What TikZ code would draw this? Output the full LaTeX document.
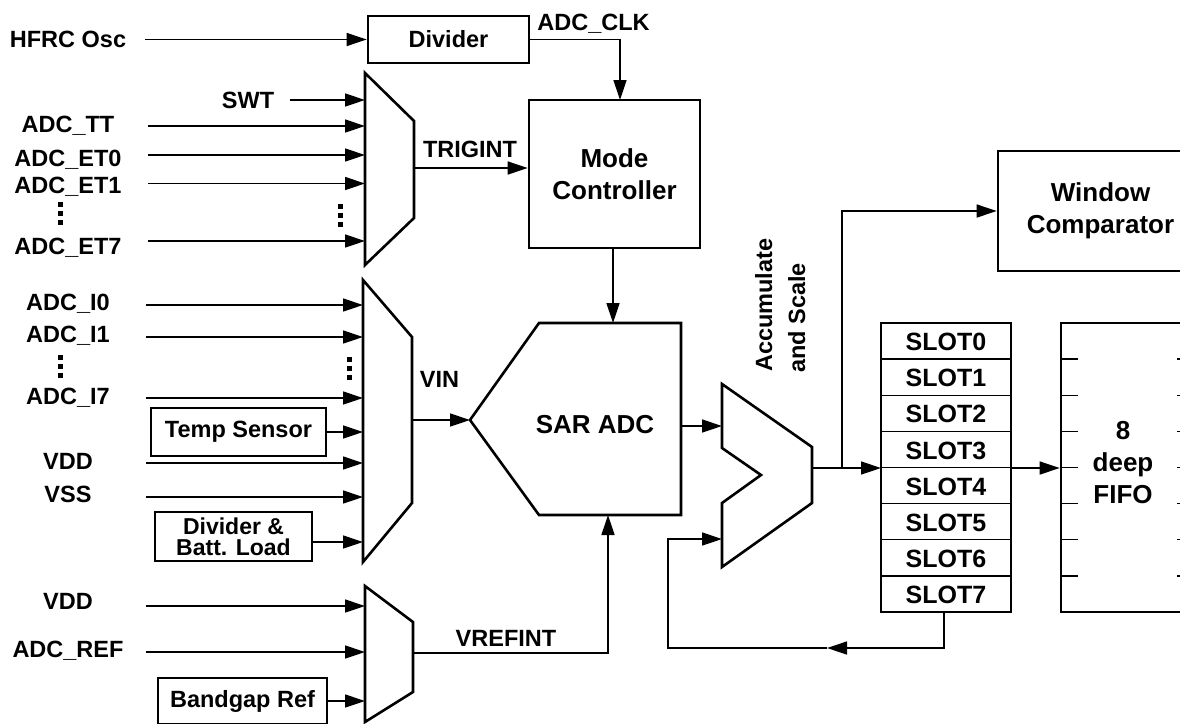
\documentclass[tikz,border=0pt]{standalone}
\usepackage{fontspec}
\setmainfont{Liberation Sans}
\usetikzlibrary{arrows.meta}
\tikzset{
  lab/.style={font=\bfseries\fontsize{23.5}{24}\selectfont, inner sep=0pt},
  big/.style={font=\bfseries\fontsize{26}{32}\selectfont, inner sep=0pt, align=center},
  slotlab/.style={font=\bfseries\fontsize{25}{26}\selectfont, inner sep=0pt},
  blk/.style={draw, line width=2.6pt, inner sep=0pt},
  shp/.style={draw, line width=2.6pt, line join=miter},
  wire/.style={line width=1.4pt},
  arr/.style={wire, -{Triangle[length=20pt,width=13pt]}},
}
\newcommand\mydots[2]{%
  \foreach \k in {0,1,2}{\fill (#1-2.5,{#2+9*\k}) rectangle (#1+2.5,{#2+9*\k+5});}}
\begin{document}
\begin{tikzpicture}[x=1pt,y=-1pt]
\useasboundingbox (0,0) rectangle (1180,723);
\clip (0,0) rectangle (1180,723);

% ---------- input arrows ----------
\node[lab, anchor=base] (hfrc) at (68,47) {HFRC Osc};
\coordinate (hfrcS) at (145,39.5);

\node[lab, anchor=base] (swt) at (248,108) {SWT};
\coordinate (swtS) at (290,100); \coordinate (swtE) at (365,100);
\draw[arr] (swtS) -- (swtE);
\foreach \n/\b/\l/\t in {tt/132/126/ADC\_TT, et0/166/155/ADC\_ET0, et1/193/183.5/ADC\_ET1, et7/254/241/ADC\_ET7}{
  \node[lab, anchor=base] (\n) at (68,\b) {\t};
  \coordinate (\n S) at (148,\l); \coordinate (\n E) at (365,\l);
  \draw[arr] (\n S) -- (\n E);
}
\mydots{60.5}{202}
\mydots{340.5}{204}

\foreach \n/\b/\l/\t in {i0/310/305/ADC\_I0, i1/342/337/ADC\_I1, i7/404/398/ADC\_I7, vdd/469/463/VDD, vss/502/497/VSS}{
  \node[lab, anchor=base] (\n) at (68,\b) {\t};
  \coordinate (\n S) at (146,\l); \coordinate (\n E) at (363,\l);
  \draw[arr] (\n S) -- (\n E);
}
\mydots{60}{355}
\mydots{349}{357}

\foreach \n/\b/\l/\t in {vddr/609/606/VDD, aref/657/652/ADC\_REF}{
  \node[lab, anchor=base] (\n) at (68,\b) {\t};
  \coordinate (\n S) at (146,\l); \coordinate (\n E) at (365,\l);
  \draw[arr] (\n S) -- (\n E);
}

% ---------- boxes ----------
\node[blk, lab, minimum width=161pt, minimum height=47pt] (div) at (448.5,39.5) {Divider};
\node[blk, big, minimum width=171pt, minimum height=148pt] (mc) at (614.5,174) {Mode\\Controller};
\node[blk, big, minimum width=205pt, minimum height=120pt] (wc) at (1100.5,211) {Window\\Comparator};
\node[blk, lab, minimum width=175pt, minimum height=48pt] (ts) at (238.5,432) {Temp Sensor};
\node[blk, lab, align=center, minimum width=157pt, minimum height=49pt,
      font=\bfseries\fontsize{23}{21}\selectfont] (dbl) at (233.5,536.5) {Divider \&\\Batt. Load};
\node[blk, lab, minimum width=169pt, minimum height=46pt] (bg) at (242.5,701) {Bandgap Ref};
\node[blk, minimum width=130pt, minimum height=289pt] (slots) at (946,467.5) {};
\node[blk, minimum width=133pt, minimum height=289pt] (fifo) at (1127.5,467.5) {};
\node[big] (fifot) at (1123,462.5) {8\\deep\\FIFO};

\foreach \i in {1,...,7}{
  \draw[wire] (881,{323+36.125*\i}) -- (1011,{323+36.125*\i});
  \draw[wire] (1061,{323+36.125*\i}) -- (1078,{323+36.125*\i});
  \draw[wire] (1177,{323+36.125*\i}) -- (1194,{323+36.125*\i});
}
\foreach \i in {0,...,7}{
  \node[slotlab] (slot\i) at (946,{323+36.125*(\i+0.5)+1}) {SLOT\i};
}

\coordinate (tsE) at (363,432);
\coordinate (dblE) at (363,542);
\coordinate (bgE) at (365,701);
\draw[arr] (ts.east) -- (tsE);
\draw[arr] (dbl.east |- dblE) -- (dblE);
\draw[arr] (bg.east) -- (bgE);
\draw[arr] (hfrcS) -- (div.west);

% ---------- muxes and shapes ----------
\coordinate (tmA) at (365,73);  \coordinate (tmB) at (414,121);
\coordinate (tmC) at (414,218); \coordinate (tmD) at (365,265);
\draw[shp] (tmA) -- (tmB) -- (tmC) -- (tmD) -- cycle;
\coordinate (tmO) at (414,168);

\coordinate (vmA) at (363,280); \coordinate (vmB) at (412,337);
\coordinate (vmC) at (412,503); \coordinate (vmD) at (363,562);
\draw[shp] (vmA) -- (vmB) -- (vmC) -- (vmD) -- cycle;
\coordinate (vmO) at (412,420);

\coordinate (rmA) at (365,586); \coordinate (rmB) at (413,622);
\coordinate (rmC) at (413,692); \coordinate (rmD) at (365,722);
\draw[shp] (rmA) -- (rmB) -- (rmC) -- (rmD) -- cycle;
\coordinate (rmO) at (413,653);

\coordinate (sarTL) at (539,323); \coordinate (sarTR) at (681,323);
\coordinate (sarBR) at (681,515); \coordinate (sarBL) at (539,515);
\coordinate (sarP) at (470,420);
\draw[shp] (sarTL) -- (sarTR) -- (sarBR) -- (sarBL) -- (sarP) -- cycle;
\node[big] (sar) at (595,424.5) {SAR ADC};
\coordinate (sarTop) at (613,323);
\coordinate (sarBot) at (608,515);
\coordinate (sarOut) at (681,426);

\coordinate (acA) at (722,384); \coordinate (acB) at (812,447);
\coordinate (acC) at (812,503); \coordinate (acD) at (722,567);
\coordinate (acE) at (722,503); \coordinate (acF) at (761,475);
\coordinate (acG) at (722,448);
\draw[shp] (acA) -- (acB) -- (acC) -- (acD) -- (acE) -- (acF) -- (acG) -- cycle;
\coordinate (acIn) at (722,426);
\coordinate (acFb) at (722,539);
\coordinate (acOut) at (812,468);
\node[lab, rotate=90, anchor=base west] (acc1) at (772,372) {Accumulate};
\node[lab, rotate=90, anchor=base west] (acc2) at (805,373) {and Scale};

% ---------- connectors ----------
\node[lab, anchor=base] (adcclk) at (593.5,30) {ADC\_CLK};
\coordinate (mcIn) at (620,100);
\draw[arr] (div.east) -| (mcIn);

\node[lab, anchor=base] (trigint) at (470,157) {TRIGINT};
\draw[arr] (tmO) -- (mc.west |- tmO);

\draw[arr] (mc.south -| sarTop) -- (sarTop);

\node[lab, anchor=base] (vin) at (439.5,387) {VIN};
\draw[arr] (vmO) -- (sarP);

\node[lab, anchor=base] (vrefint) at (506,646) {VREFINT};
\draw[arr] (rmO) -| (sarBot);

\draw[arr] (sarOut) -- (acIn);

\coordinate (br) at (842,468);
\coordinate (slIn) at (881,468);
\draw[arr] (acOut) -- (slIn);
\draw[arr] (br) |- (wc.west);
\coordinate (slOut) at (1011,468);
\draw[arr] (slOut) -- (fifo.west |- slOut);

\coordinate (s7b) at (944,612);
\coordinate (fbT) at (827,648);
\coordinate (fbL) at (668,648);
\draw[arr] (s7b) |- (fbT);
\draw[arr] (fbT) -- (fbL) |- (acFb);
\end{tikzpicture}
\end{document}
